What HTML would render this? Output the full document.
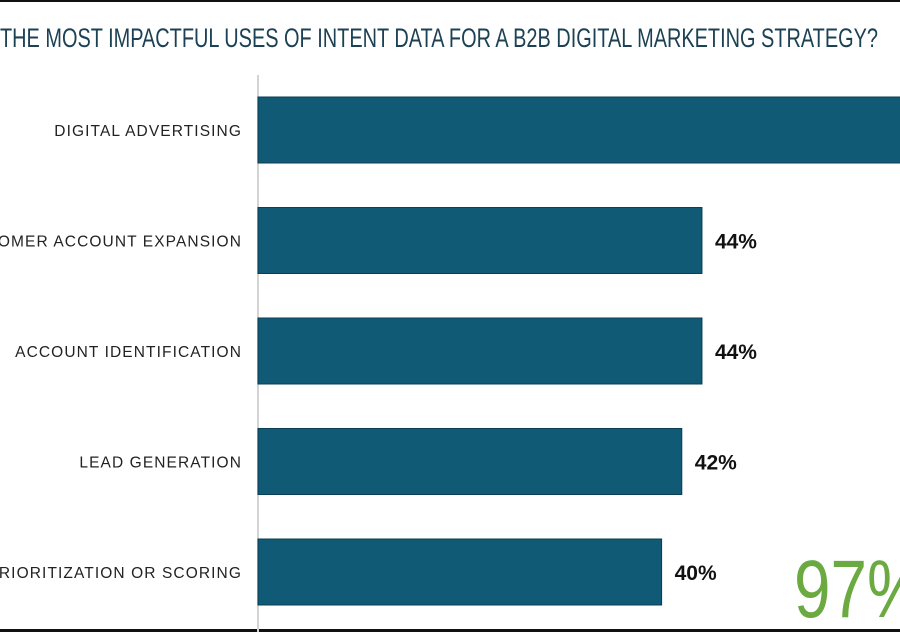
<!DOCTYPE html>
<html><head><meta charset="utf-8"><style>
html,body{margin:0;padding:0;background:#fff;}
svg{display:block;}
</style></head><body>
<svg id="chart" width="900" height="632" viewBox="0 0 900 632" xmlns="http://www.w3.org/2000/svg">
<rect x="0" y="0" width="900" height="2" fill="#111"/>
<rect x="0" y="629" width="900" height="3" fill="#111"/>
<text x="0" y="47" font-family="'Liberation Sans Narrow','Liberation Sans',sans-serif" font-size="27" fill="#1d4154" textLength="878" lengthAdjust="spacingAndGlyphs">THE MOST IMPACTFUL USES OF INTENT DATA FOR A B2B DIGITAL MARKETING STRATEGY?</text>
<line x1="258" y1="75" x2="258" y2="632" stroke="#d4d4d4" stroke-width="2"/>
<g id="bars"></g>
<text transform="translate(794,617) scale(0.8,1)" x="0" y="0" font-family="'Liberation Sans',sans-serif" font-size="82" fill="#6aaa40">97%</text>
</svg>
<script>
const categories = ["DIGITAL ADVERTISING","CUSTOMER ACCOUNT EXPANSION","ACCOUNT IDENTIFICATION","LEAD GENERATION","ACCOUNT PRIORITIZATION OR SCORING"];
const values = [64, 44, 44, 42, 40];
const valueLabels = ["64%","44%","44%","42%","40%"];

const x0 = 258, pxPerPct = 10.09;
function xScale(v){ return x0 + v * pxPerPct; }
function yScale(i){ return 97 + i * 110.5; }
const barH = 66;
const NS = "http://www.w3.org/2000/svg";
const g = document.getElementById("bars");
categories.forEach((c, i) => {
  const y = yScale(i);
  const r = document.createElementNS(NS, "rect");
  r.setAttribute("x", x0);
  r.setAttribute("y", y);
  r.setAttribute("width", xScale(values[i]) - x0);
  r.setAttribute("height", barH);
  r.setAttribute("fill", "#115a75");
  r.setAttribute("stroke", "#0a3f55");
  r.setAttribute("stroke-width", "1");
  
  
  g.appendChild(r);

  const t = document.createElementNS(NS, "text");
  t.setAttribute("x", 242);
  t.setAttribute("y", y + barH / 2 + 6);
  t.setAttribute("text-anchor", "end");
  t.setAttribute("font-family", "'Liberation Sans',sans-serif");
  t.setAttribute("font-size", "15.5");
  t.setAttribute("letter-spacing", "1.1");
  t.setAttribute("fill", "#222");
  t.textContent = c;
  
  
  g.appendChild(t);

  const vx = xScale(values[i]) + 13;
  if (vx < 880) {
    const v = document.createElementNS(NS, "text");
    v.setAttribute("x", vx);
    v.setAttribute("y", y + barH / 2 + 8);
    v.setAttribute("font-family", "'Liberation Sans',sans-serif");
    v.setAttribute("font-size", "21");
    v.setAttribute("font-weight", "bold");
    v.setAttribute("fill", "#111");
    v.textContent = valueLabels[i];
    
    
    g.appendChild(v);
  }
});
</script>
</body></html>
